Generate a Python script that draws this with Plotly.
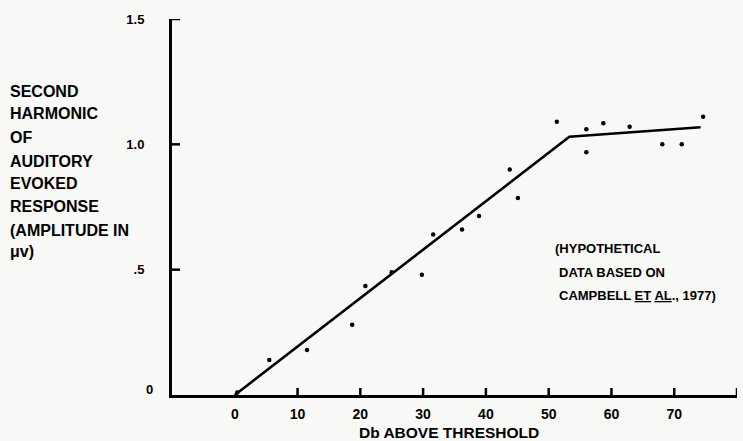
import plotly.graph_objects as go

# Data
db_above = [0.4, 5.5, 11.5, 18.7, 20.8, 25.0, 29.8, 31.6, 36.2, 38.9, 43.8, 45.1,
            51.3, 56.0, 56.0, 58.7, 62.9, 68.1, 71.2, 74.6]
amplitude = [0.01, 0.14, 0.18, 0.28, 0.435, 0.49, 0.48, 0.64, 0.66, 0.714, 0.90, 0.786,
             1.09, 1.06, 0.968, 1.084, 1.07, 1.00, 1.00, 1.11]
fit_x = [0, 53.3, 74.2]
fit_y = [0, 1.03, 1.068]

x_ticks = [0, 10, 20, 30, 40, 50, 60, 70, 80]
y_ticks = [0.5, 1.0, 1.5]
y_ticktext = [".5", "1.0", "1.5"]

ylabel_lines = ["SECOND", "HARMONIC", "OF", "AUDITORY", "EVOKED", "RESPONSE",
                "(AMPLITUDE IN", "\u03bcv)"]
note_lines = ["(HYPOTHETICAL", "DATA BASED ON", "CAMPBELL <u>ET</u> <u>AL</u>., 1977)"]
xlabel = "Db ABOVE THRESHOLD"

W, H = 743, 441
L, R, T, B = 172, 6, 19, 46
PW, PH = W - L - R, H - T - B


def px(x):
    return (x - L) / PW


def py(y):
    return (H - B - y) / PH


FONT = "Liberation Sans"
BG = "#f8f8f6"

fig = go.Figure()
fig.add_trace(go.Scatter(x=fit_x, y=fit_y, mode="lines",
                         line=dict(color="black", width=2.6), hoverinfo="skip"))
fig.add_trace(go.Scatter(x=db_above, y=amplitude, mode="markers",
                         marker=dict(color="black", size=4.5)))

annotations = []
ylab_y = [91, 114, 137, 161, 183, 206, 230, 251]
for t, yy in zip(ylabel_lines, ylab_y):
    annotations.append(dict(text=t, xref="paper", yref="paper", x=px(8), y=py(yy),
                            xanchor="left", yanchor="middle", showarrow=False,
                            font=dict(family=FONT, size=16, color="black", weight="bold")))
note_pos = [(553, 248), (557, 272), (557, 295)]
for t, (xx, yy) in zip(note_lines, note_pos):
    annotations.append(dict(text=t, xref="paper", yref="paper", x=px(xx), y=py(yy),
                            xanchor="left", yanchor="middle", showarrow=False,
                            font=dict(family=FONT, size=13, color="black", weight="bold")))
annotations.append(dict(text=xlabel, xref="paper", yref="paper", x=px(449), y=py(432),
                        xanchor="center", yanchor="middle", showarrow=False,
                        font=dict(family=FONT, size=15.5, color="black", weight="bold")))

# inward tick stubs
shapes = []
for v in x_ticks[1:]:
    shapes.append(dict(type="line", xref="x", yref="paper", x0=v, x1=v, y0=0, y1=7 / PH,
                       line=dict(color="black", width=2.5)))
for v in y_ticks:
    shapes.append(dict(type="line", xref="paper", yref="y", x0=0, x1=8 / PW, y0=v, y1=v,
                       line=dict(color="black", width=2.5)))

fig.update_layout(
    width=W, height=H,
    margin=dict(l=L, r=R, t=T, b=B),
    paper_bgcolor=BG, plot_bgcolor=BG,
    showlegend=False,
    annotations=annotations,
    shapes=shapes,
    xaxis=dict(range=[-10, 80], tickvals=x_ticks, ticks="", showline=True, linewidth=3,
               linecolor="black", showgrid=False, zeroline=False,
               tickfont=dict(family=FONT, size=14, color="black", weight="bold"),
               ticklabelstandoff=4),
    yaxis=dict(range=[0, 1.5], tickvals=y_ticks, ticktext=y_ticktext, ticks="",
               showline=True, linewidth=3, linecolor="black", showgrid=False,
               zeroline=False,
               tickfont=dict(family=FONT, size=13, color="black", weight="bold"),
               ticklabelstandoff=22),
)
# the "0" label of the y axis sits beside the x axis line
fig.add_annotation(text="0", xref="paper", yref="paper", x=px(155), y=py(389),
                   xanchor="right", yanchor="middle", showarrow=False,
                   font=dict(family=FONT, size=13, color="black", weight="bold"))

fig.write_html("out.html")
